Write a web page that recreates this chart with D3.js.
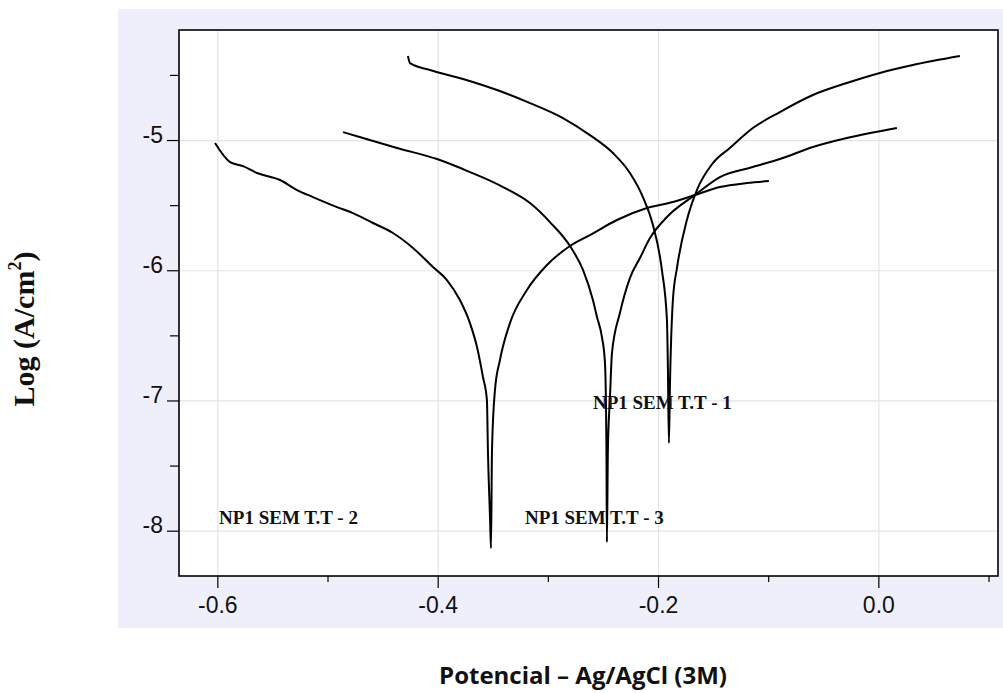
<!DOCTYPE html>
<html>
<head>
<meta charset="utf-8">
<script src="https://cdn.jsdelivr.net/npm/d3@7"></script>
<style>
  html, body { margin: 0; padding: 0; background: #fff; }
  svg { display: block; }
</style>
</head>
<body>
<div id="chart"></div>
<script>
// Tafel curves: potential (V vs Ag/AgCl) and log current density
const series1Potential = [-0.4270, -0.4251, -0.4070, -0.3770, -0.3462, -0.3162, -0.2863, -0.2618, -0.2409, -0.2255, -0.2137, -0.2046, -0.1965, -0.1919, -0.1910, -0.1901, -0.1892, -0.1865, -0.1828, -0.1738, -0.1647, -0.1502, -0.1348, -0.1139, -0.0894, -0.0594, -0.0286, 0.0014, 0.0313, 0.0740];
const series1LogI = [-4.355, -4.409, -4.462, -4.531, -4.616, -4.716, -4.831, -4.962, -5.100, -5.253, -5.438, -5.653, -5.998, -6.382, -6.767, -7.327, -6.897, -6.229, -5.983, -5.614, -5.384, -5.177, -5.061, -4.908, -4.785, -4.654, -4.562, -4.485, -4.424, -4.355];

const series2Potential = [-0.6021, -0.5885, -0.5767, -0.5640, -0.5431, -0.5277, -0.5132, -0.4914, -0.4769, -0.4587, -0.4406, -0.4224, -0.4043, -0.3916, -0.3798, -0.3707, -0.3643, -0.3589, -0.3553, -0.3544, -0.3525, -0.3516, -0.3507, -0.3480, -0.3435, -0.3344, -0.3190, -0.3008, -0.2799, -0.2618, -0.2373, -0.2101, -0.1865, -0.1665, -0.1438, -0.1193, -0.0994];
const series2LogI = [-5.023, -5.169, -5.200, -5.253, -5.307, -5.384, -5.438, -5.515, -5.561, -5.637, -5.714, -5.829, -5.975, -6.075, -6.229, -6.406, -6.590, -6.820, -6.997, -7.381, -7.896, -8.134, -7.381, -6.920, -6.690, -6.406, -6.152, -5.960, -5.814, -5.730, -5.614, -5.522, -5.476, -5.422, -5.361, -5.330, -5.315];

const series3Potential = [-0.4859, -0.4678, -0.4369, -0.4006, -0.3707, -0.3407, -0.3162, -0.2981, -0.2799, -0.2681, -0.2591, -0.2554, -0.2509, -0.2482, -0.2473, -0.2468, -0.2464, -0.2455, -0.2436, -0.2418, -0.2346, -0.2255, -0.2164, -0.2073, -0.1919, -0.1665, -0.1438, -0.1139, -0.0894, -0.0594, -0.0286, 0.0168];
const series3LogI = [-4.939, -4.985, -5.061, -5.146, -5.246, -5.361, -5.484, -5.630, -5.814, -5.998, -6.229, -6.359, -6.513, -6.705, -6.997, -7.381, -8.088, -7.381, -6.974, -6.636, -6.329, -6.060, -5.906, -5.753, -5.591, -5.422, -5.284, -5.207, -5.146, -5.054, -4.985, -4.908];

const labelNames = ["NP1 SEM T.T - 1", "NP1 SEM T.T - 2", "NP1 SEM T.T - 3"];
const labelPotential = [-0.2591, -0.5984, -0.3208];
const labelLogI = [-7.066, -7.949, -7.949];

const xMajorTicks = [-0.6, -0.4, -0.2, 0.0];
const xMinorTicks = [-0.5, -0.3, -0.1, 0.1];
const yMajorTicks = [-5, -6, -7, -8];
const yMinorTicks = [-4.5, -5.5, -6.5, -7.5];

const width = 1003;
const height = 693;
const plot = { left: 179, top: 30, right: 998, bottom: 576 };

const svg = d3.select("#chart")
    .append("svg")
    .attr("width", width)
    .attr("height", height);

svg.append("rect")
    .attr("width", width)
    .attr("height", height)
    .attr("fill", "#ffffff");

// lavender panel behind the plot
svg.append("rect")
    .attr("x", 118)
    .attr("y", 9)
    .attr("width", width - 118)
    .attr("height", 619)
    .attr("fill", "#efeffb");

svg.append("rect")
    .attr("x", plot.left)
    .attr("y", plot.top)
    .attr("width", plot.right - plot.left)
    .attr("height", plot.bottom - plot.top)
    .attr("fill", "#ffffff");

const xScale = d3.scaleLinear()
    .domain([-0.6348, 0.1086])
    .range([plot.left, plot.right]);

const yScale = d3.scaleLinear()
    .domain([-8.348, -4.155])
    .range([plot.bottom, plot.top]);

// grid
svg.append("g")
    .attr("transform", `translate(0,${plot.bottom})`)
    .call(d3.axisBottom(xScale).tickValues(xMajorTicks).tickSize(-(plot.bottom - plot.top)).tickFormat(""))
    .call(g => g.select(".domain").remove())
    .selectAll("line")
    .attr("stroke", "#e4e4e4")
    .attr("stroke-width", 1.2);

svg.append("g")
    .attr("transform", `translate(${plot.left},0)`)
    .call(d3.axisLeft(yScale).tickValues(yMajorTicks).tickSize(-(plot.right - plot.left)).tickFormat(""))
    .call(g => g.select(".domain").remove())
    .selectAll("line")
    .attr("stroke", "#e4e4e4")
    .attr("stroke-width", 1.2);

// curves
const line = d3.line()
    .curve(d3.curveMonotoneX)
    .x(d => xScale(d[0]))
    .y(d => yScale(d[1]));

const curves = [
    d3.zip(series1Potential, series1LogI),
    d3.zip(series2Potential, series2LogI),
    d3.zip(series3Potential, series3LogI)
];

svg.append("g")
    .selectAll("path")
    .data(curves)
    .enter()
    .append("path")
    .attr("d", line)
    .attr("fill", "none")
    .attr("stroke", "#000")
    .attr("stroke-width", 2)
    .attr("stroke-linejoin", "round");

// curve labels
svg.append("g")
    .selectAll("text")
    .data(labelNames)
    .enter()
    .append("text")
    .attr("x", (d, i) => xScale(labelPotential[i]))
    .attr("y", (d, i) => yScale(labelLogI[i]))
    .attr("font-family", "'Liberation Serif', 'Times New Roman', serif")
    .attr("font-weight", "bold")
    .attr("font-size", "19px")
    .attr("fill", "#111")
    .text(d => d);

// frame
svg.append("rect")
    .attr("x", plot.left)
    .attr("y", plot.top)
    .attr("width", plot.right - plot.left)
    .attr("height", plot.bottom - plot.top)
    .attr("fill", "none")
    .attr("stroke", "#000")
    .attr("stroke-width", 1.6);

// axes
const xAxis = svg.append("g")
    .attr("transform", `translate(0,${plot.bottom})`)
    .call(d3.axisBottom(xScale).tickValues(xMajorTicks).tickSize(12).tickSizeOuter(0).tickFormat(d => d.toFixed(1)));
xAxis.select(".domain").remove();
xAxis.selectAll("line").attr("stroke", "#000").attr("stroke-width", 1.2);
xAxis.selectAll("text")
    .attr("font-family", "'Liberation Sans', Arial, sans-serif")
    .attr("font-size", "23px")
    .attr("fill", "#111")
    .attr("dy", 0)
    .attr("y", 37);

const xMinor = svg.append("g")
    .attr("transform", `translate(0,${plot.bottom})`)
    .call(d3.axisBottom(xScale).tickValues(xMinorTicks).tickSize(6).tickSizeOuter(0).tickFormat(""));
xMinor.select(".domain").remove();
xMinor.selectAll("line").attr("stroke", "#000").attr("stroke-width", 1.2);

const yAxis = svg.append("g")
    .attr("transform", `translate(${plot.left},0)`)
    .call(d3.axisLeft(yScale).tickValues(yMajorTicks).tickSize(12).tickSizeOuter(0).tickFormat(d => String(d)));
yAxis.select(".domain").remove();
yAxis.selectAll("line").attr("stroke", "#000").attr("stroke-width", 1.2);
yAxis.selectAll("text")
    .attr("font-family", "'Liberation Sans', Arial, sans-serif")
    .attr("font-size", "23px")
    .attr("fill", "#111")
    .attr("x", -16)
    .attr("dy", 0)
    .attr("y", 2);

const yMinor = svg.append("g")
    .attr("transform", `translate(${plot.left},0)`)
    .call(d3.axisLeft(yScale).tickValues(yMinorTicks).tickSize(9).tickSizeOuter(0).tickFormat(""));
yMinor.select(".domain").remove();
yMinor.selectAll("line").attr("stroke", "#000").attr("stroke-width", 1.2);

// axis titles
svg.append("text")
    .attr("x", 583)
    .attr("y", 684)
    .attr("text-anchor", "middle")
    .attr("font-family", "'Open Sans', 'Noto Sans', sans-serif")
    .attr("font-weight", "bold")
    .attr("font-size", "24px")
    .attr("fill", "#111")
    .text("Potencial – Ag/AgCl (3M)");

const yTitle = svg.append("text")
    .attr("transform", "translate(34,329) rotate(-90)")
    .attr("text-anchor", "middle")
    .attr("font-family", "'Liberation Serif', 'Times New Roman', serif")
    .attr("font-weight", "bold")
    .attr("font-size", "30px")
    .attr("fill", "#111");
yTitle.append("tspan").text("Log (A/cm");
yTitle.append("tspan").attr("font-size", "18px").attr("dy", -13).text("2");
yTitle.append("tspan").attr("dy", 13).text(")");
</script>
</body>
</html>
